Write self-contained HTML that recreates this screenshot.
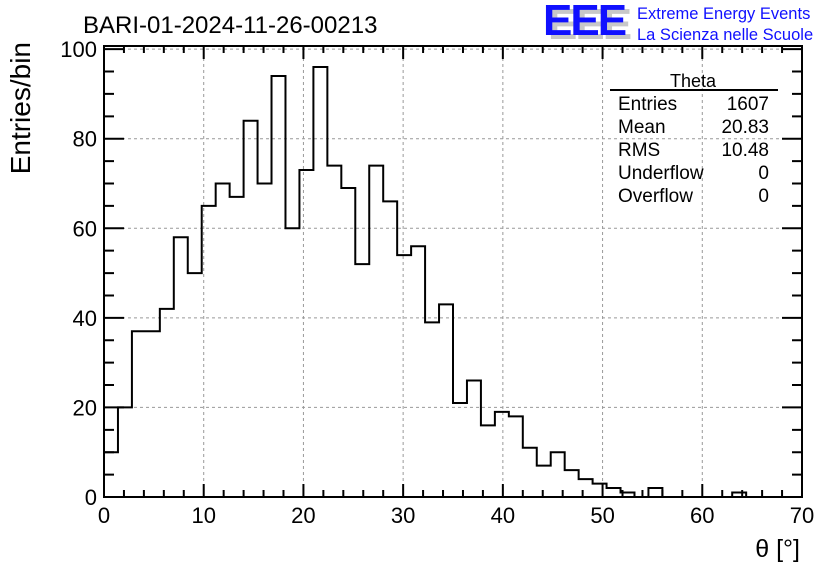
<!DOCTYPE html>
<html><head><meta charset="utf-8"><style>
body{margin:0;background:#fff;}
svg text{font-family:"Liberation Sans",sans-serif;}
</style></head><body>
<svg id="c" width="836" height="572" xmlns="http://www.w3.org/2000/svg">
<rect width="836" height="572" fill="#fff"/>
<text x="83" y="33" font-size="24">BARI-01-2024-11-26-00213</text>
<g>
<text x="548" y="39" font-size="44" font-weight="bold" fill="#c8c8c8" letter-spacing="-2">EEE</text>
<text x="543" y="35" font-size="44" font-weight="bold" fill="#1010ff" letter-spacing="-2">EEE</text>
<text x="637" y="19" font-size="16.5" fill="#1010ff">Extreme Energy Events</text>
<text x="637" y="40" font-size="16.5" fill="#1010ff">La Scienza nelle Scuole</text>
</g>
<g id="grid"></g>
<g id="ticks"></g>
<path id="hist" fill="none" stroke="#000" stroke-width="2"/>
<rect x="104" y="46" width="698" height="451" fill="none" stroke="#000" stroke-width="2"/>
<g id="labels"></g>
<text transform="translate(30,42) rotate(-90)" text-anchor="end" font-size="28">Entries/bin</text>
<text x="800" y="557" text-anchor="end" font-size="25">θ [°]</text>
<g>
<text x="693" y="87" text-anchor="middle" font-size="18">Theta</text>
<line x1="610" y1="90" x2="778" y2="90" stroke="#000" stroke-width="2"/>
<g font-size="19">
<text x="618" y="110">Entries</text><text x="769" y="110" text-anchor="end">1607</text>
<text x="618" y="133">Mean</text><text x="769" y="133" text-anchor="end">20.83</text>
<text x="618" y="156">RMS</text><text x="769" y="156" text-anchor="end">10.48</text>
<text x="618" y="179">Underflow</text><text x="769" y="179" text-anchor="end">0</text>
<text x="618" y="202">Overflow</text><text x="769" y="202" text-anchor="end">0</text>
</g></g>
</svg>
<script>
const binWidth = 1.4;
const counts = [10,20,37,37,42,58,50,65,70,67,84,70,94,60,73,96,74,69,52,74,66,54,56,39,43,21,26,16,19,18,11,7,10,6,4,3,2,1,0,2,0,0,0,0,0,1,0,0,0,0];
const xTicks = [0,10,20,30,40,50,60,70];
const yTicks = [0,20,40,60,80,100];
const X0=104,X1=802,Y0=497,Y1=46;
const xs = v => X0 + v/70*(X1-X0);
const ys = v => Y0 - v/100.7*(Y0-Y1);
const NS='http://www.w3.org/2000/svg';
function mk(tag, attrs, parent){const e=document.createElementNS(NS,tag);for(const k in attrs)e.setAttribute(k,attrs[k]);parent.appendChild(e);return e;}
const grid=document.getElementById('grid'),ticks=document.getElementById('ticks'),labels=document.getElementById('labels');
xTicks.forEach(t=>{
  const x=xs(t);
  if(t>0&&t<70){const l=mk('line',{x1:x,x2:x,y1:Y1,y2:Y0,stroke:'#999','stroke-dasharray':'3,3'},grid);
  
  }
  const lb=mk('text',{x:x,y:523,'text-anchor':'middle','font-size':'22'},labels);
  lb.textContent=t;
  
  
});
yTicks.forEach(t=>{
  const y=ys(t);
  if(t>0){const l=mk('line',{x1:X0,x2:X1,y1:y,y2:y,stroke:'#999','stroke-dasharray':'3,3'},grid);
  
  }
  const lb=mk('text',{x:97,y:y+8,'text-anchor':'end','font-size':'22'},labels);
  lb.textContent=t;
  
  
});
let d='';
for(let v=0;v<=70;v+=2){const x=xs(v),L=(v%10===0)?13:7;d+=`M${x},${Y0}v${-L}M${x},${Y1}v${L}`;}
for(let v=0;v<=100;v+=5){const y=ys(v),L=(v%20===0)?20:10;d+=`M${X0},${y}h${L}M${X1},${y}h${-L}`;}
const tp=mk('path',{d:d,stroke:'#000','stroke-width':'2',fill:'none'},ticks);


let h=`M${xs(0)},${ys(0)}`;
counts.forEach((c,i)=>{h+=`V${ys(c)}H${xs((i+1)*binWidth)}`;});
h+=`V${ys(0)}`;
document.getElementById('hist').setAttribute('d',h);
</script>
</body></html>
